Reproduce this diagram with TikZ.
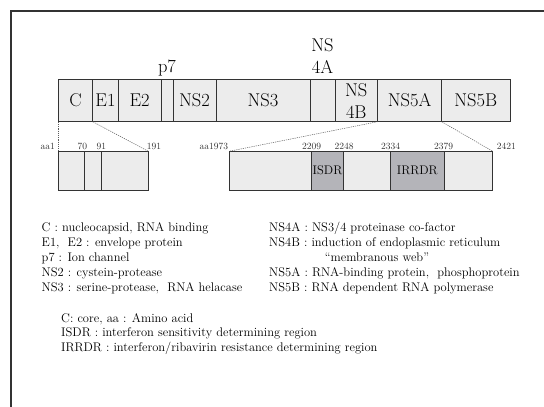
\documentclass[tikz,border=0pt]{standalone}
\usepackage{tikz}
\definecolor{segfill}{HTML}{ECECEC}
\definecolor{darkfill}{HTML}{B4B4B9}
\definecolor{lineC}{HTML}{333333}
\begin{document}
\begin{tikzpicture}[x=1pt,y=-1pt,
  seg/.style={draw=lineC, line width=1pt, fill=segfill, inner sep=0pt, outer sep=0pt, anchor=north west, font=\fontsize{18.5}{20}\selectfont, align=center},
  lseg/.style={seg, font=\fontsize{12.5}{15}\selectfont},
  num/.style={inner sep=0pt, font=\fontsize{9.5}{10}\selectfont, text=lineC},
  leg/.style={inner sep=0pt, anchor=base west, font=\fontsize{12.5}{14}\selectfont, text=black},
  top/.style={inner sep=0pt, font=\fontsize{18.5}{22}\selectfont, align=center},
  zoomline/.style={draw=lineC!80, line width=0.5pt, dash pattern=on 1.2pt off 1pt}]
\useasboundingbox (0,0) rectangle (544,407);
\fill[white] (0,0) rectangle (544,407);
\draw[line width=2.3pt, lineC] (11,407) -- (11,11) -- (544,11);
% top bar
\node[seg, minimum width=34.4, minimum height=42.7] (C) at (58.3,79) {C};
\node[seg, minimum width=25.6, minimum height=42.7] (E1) at (92.7,79) {E1};
\node[seg, minimum width=42.7, minimum height=42.7] (E2) at (118.3,79) {E2};
\node[seg, minimum width=12, minimum height=42.7] (p7) at (161,79) {};
\node[seg, minimum width=43, minimum height=42.7] (NS2) at (173,79) {NS2};
\node[seg, minimum width=94, minimum height=42.7] (NS3) at (216,79) {NS3};
\node[seg, minimum width=25, minimum height=42.7] (NS4A) at (310,79) {};
\node[seg, minimum width=42.7, minimum height=42.7] (NS4B) at (335,79) {};
\node[seg, minimum width=64, minimum height=42.7] (NS5A) at (377.7,79) {NS5A};
\node[seg, minimum width=68.3, minimum height=42.7] (NS5B) at (441.7,79) {NS5B};
\node[top, anchor=base] (nsb1) at (356.3,96) {NS};
\node[top, anchor=base] (nsb2) at (356.3,118.5) {4B};
\node[top, anchor=base] (p7l) at (167,72.5) {p7};
\node[top, anchor=base] (nsa1) at (322.5,51.5) {NS};
\node[top, anchor=base] (nsa2) at (322.5,73.3) {4A};
% lower left
\node[seg, minimum width=25.7, minimum height=38.7] (l1) at (58.3,151.3) {};
\node[seg, minimum width=17, minimum height=38.7] (l2) at (84,151.3) {};
\node[seg, minimum width=47.3, minimum height=38.7] (l3) at (101,151.3) {};
% lower right
\node[seg, minimum width=82.7, minimum height=38.7] (r1) at (229,151.3) {};
\node[lseg, fill=darkfill, minimum width=31.6, minimum height=38.7] (r2) at (311.7,151.3) {\raisebox{-2pt}{ISDR}};
\node[seg, minimum width=47.4, minimum height=38.7] (r3) at (343.3,151.3) {};
\node[lseg, fill=darkfill, minimum width=53.3, minimum height=38.7] (r4) at (390.7,151.3) {\raisebox{-2pt}{IRRDR}};
\node[seg, minimum width=48.7, minimum height=38.7] (r5) at (444,151.3) {};
% zoom lines
\draw[zoomline] (C.south west) -- (l1.north west);
\draw[zoomline] (E1.south west) -- (l3.north east);
\draw[zoomline] (NS5A.south west) -- (r1.north west);
\draw[zoomline] (NS5B.south west) -- (r5.north east);
% numbers
\node[num, anchor=base east] (n1) at (55,149) {aa1};
\node[num, anchor=base] (n70) at (82.3,149) {70};
\node[num, anchor=base] (n91) at (101.3,149) {91};
\node[num, anchor=base west] (n191) at (146.7,149) {191};
\node[num, anchor=base east] (n1973) at (228.3,149) {aa1973};
\node[num, anchor=base] (n2209) at (311.5,149) {2209};
\node[num, anchor=base] (n2248) at (344,149) {2248};
\node[num, anchor=base] (n2334) at (390.7,149) {2334};
\node[num, anchor=base] (n2379) at (443.5,149) {2379};
\node[num, anchor=base west] (n2421) at (496.7,149) {2421};
% legend
\node[leg] (g1) at (41.5,231) {C : nucleocapsid, RNA binding};
\node[leg] (g2) at (41.5,246) {E1,\ \ E2 : envelope protein};
\node[leg] (g3) at (41.5,261) {p7 : Ion channel};
\node[leg] (g4) at (41.5,276) {NS2 : cystein-protease};
\node[leg] (g5) at (41.5,291) {NS3 : serine-protease,\ \ RNA helacase};
\node[leg] (g6) at (269,231) {NS4A : NS3/4 proteinase co-factor};
\node[leg] (g7) at (269,246) {NS4B : induction of endoplasmic reticulum};
\node[leg, anchor=base] (g8) at (377,261) {``membranous web''};
\node[leg] (g9) at (269,276) {NS5A : RNA-binding protein,\ \ phosphoprotein};
\node[leg] (g10) at (269,291) {NS5B : RNA dependent RNA polymerase};
\node[leg] (h1) at (61,322) {C: core, aa : Amino acid};
\node[leg] (h2) at (61,336.5) {ISDR : interferon sensitivity determining region};
\node[leg] (h3) at (61,351) {IRRDR : interferon/ribavirin resistance determining region};
\end{tikzpicture}
\end{document}
